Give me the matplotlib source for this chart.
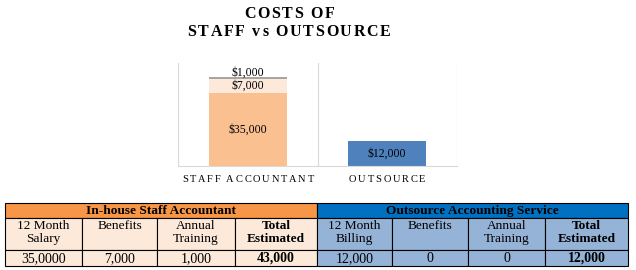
import matplotlib
matplotlib.use("Agg")
from matplotlib import pyplot as plt
from matplotlib.patches import Rectangle
from matplotlib.font_manager import FontProperties

categories = ["STAFF ACCOUNTANT", "OUTSOURCE"]
salary = [35000, 12000]
benefits = [7000, 0]
training = [1000, 0]

left_title = "In-house Staff Accountant"
right_title = "Outsource Accounting Service"
left_heads = ["12 Month\nSalary", "Benefits", "Annual\nTraining", "Total\nEstimated"]
right_heads = ["12 Month\nBilling", "Benefits", "Annual\nTraining", "Total\nEstimated"]
left_vals = ["35,0000", "7,000", "1,000", "43,000"]
right_vals = ["12,000", "0", "0", "12,000"]

serif = "Liberation Serif"
plt.rcParams["font.family"] = serif

W, H = 636, 270
fig = plt.figure(figsize=(W / 100, H / 100), dpi=100)
renderer = fig.canvas.get_renderer()


def spaced_text(xc, yc, s, size, weight="normal", track=2.0):
    # draw letter-spaced text centred at pixel (xc, yc) measured from top-left
    fp = FontProperties(family=serif, size=size, weight=weight)
    widths = [renderer.get_text_width_height_descent(c, fp, ismath=False)[0]
              for c in s]
    total = sum(widths) + track * (len(s) - 1)
    xx = xc - total / 2
    for c, w in zip(s, widths):
        fig.text(xx / W, 1 - yc / H, c, ha="left", va="center",
                 fontproperties=fp)
        xx += w + track


spaced_text(289, 14, "COSTS OF", 11.5, "bold", 1.7)
spaced_text(289, 32, "STAFF vs OUTSOURCE", 11.5, "bold", 1.7)

ax = fig.add_axes([178 / W, 1 - 166 / H, 279 / W, 103 / H])
x = range(len(categories))
w = 0.56
ax.bar(x, salary, w, color=["#FAC090", "#4F81BD"])
ax.bar(x, benefits, w, bottom=salary, color="#FDE9D9")
bot2 = [s + b for s, b in zip(salary, benefits)]
ax.bar(x, training, w, bottom=bot2, color="#A5A5A5")

for i in x:
    ax.text(i, salary[i] / 2, "${:,}".format(salary[i]), ha="center",
            va="center", fontsize=8.5)
    if benefits[i]:
        ax.text(i, salary[i] + benefits[i] / 2 + 300, "${:,}".format(benefits[i]),
                ha="center", va="center", fontsize=8.5)
    if training[i]:
        ax.text(i, bot2[i] + training[i] + 1900, "${:,}".format(training[i]),
                ha="center", va="center", fontsize=8.5)

ax.set_xlim(-0.5, 1.5)
ax.set_ylim(0, 49500)
ax.set_yticks([])
ax.set_xticks([])
for v in [-0.5, 0.5, 1.5]:
    ax.axvline(v, color="#D9D9D9", lw=0.8)
for s in ["top", "left", "right"]:
    ax.spines[s].set_visible(False)
ax.spines["bottom"].set_color("#D9D9D9")

for i, c in enumerate(categories):
    px = ax.transData.transform((i, 0))[0]
    spaced_text(px, 179, c, 7.5, "normal", 1.8)

# table
tb = fig.add_axes([0, 0, 1, 1])
tb.set_xlim(0, W)
tb.set_ylim(H, 0)
tb.axis("off")

rows = [203, 218, 250, 266]
left_cols = [5, 82, 157, 235, 317]
right_cols = [317, 392, 468, 545, 628]


def draw_block(cols, title, heads, vals, head_col, cell_col):
    tb.add_patch(Rectangle((cols[0], rows[0]), cols[-1] - cols[0], rows[1] - rows[0],
                           facecolor=head_col, edgecolor="black", lw=0.8))
    tb.text((cols[0] + cols[-1]) / 2, (rows[0] + rows[1]) / 2 + 0.5, title,
            ha="center", va="center", fontsize=9.6, fontweight="bold")
    for j in range(4):
        for r in [1, 2]:
            tb.add_patch(Rectangle((cols[j], rows[r]), cols[j + 1] - cols[j],
                                   rows[r + 1] - rows[r], facecolor=cell_col,
                                   edgecolor="black", lw=0.8))
        wt = "bold" if j == 3 else "normal"
        tb.text((cols[j] + cols[j + 1]) / 2, rows[1] + 2, heads[j], ha="center",
                va="top", fontsize=9.6, fontweight=wt, linespacing=1.12)
        tb.text((cols[j] + cols[j + 1]) / 2, (rows[2] + rows[3]) / 2 + 0.5, vals[j],
                ha="center", va="center", fontsize=10, fontweight=wt)


draw_block(left_cols, left_title, left_heads, left_vals, "#F79646", "#FDE9D9")
draw_block(right_cols, right_title, right_heads, right_vals, "#0070C0", "#95B3D7")

fig.savefig("out.png", dpi=100)
